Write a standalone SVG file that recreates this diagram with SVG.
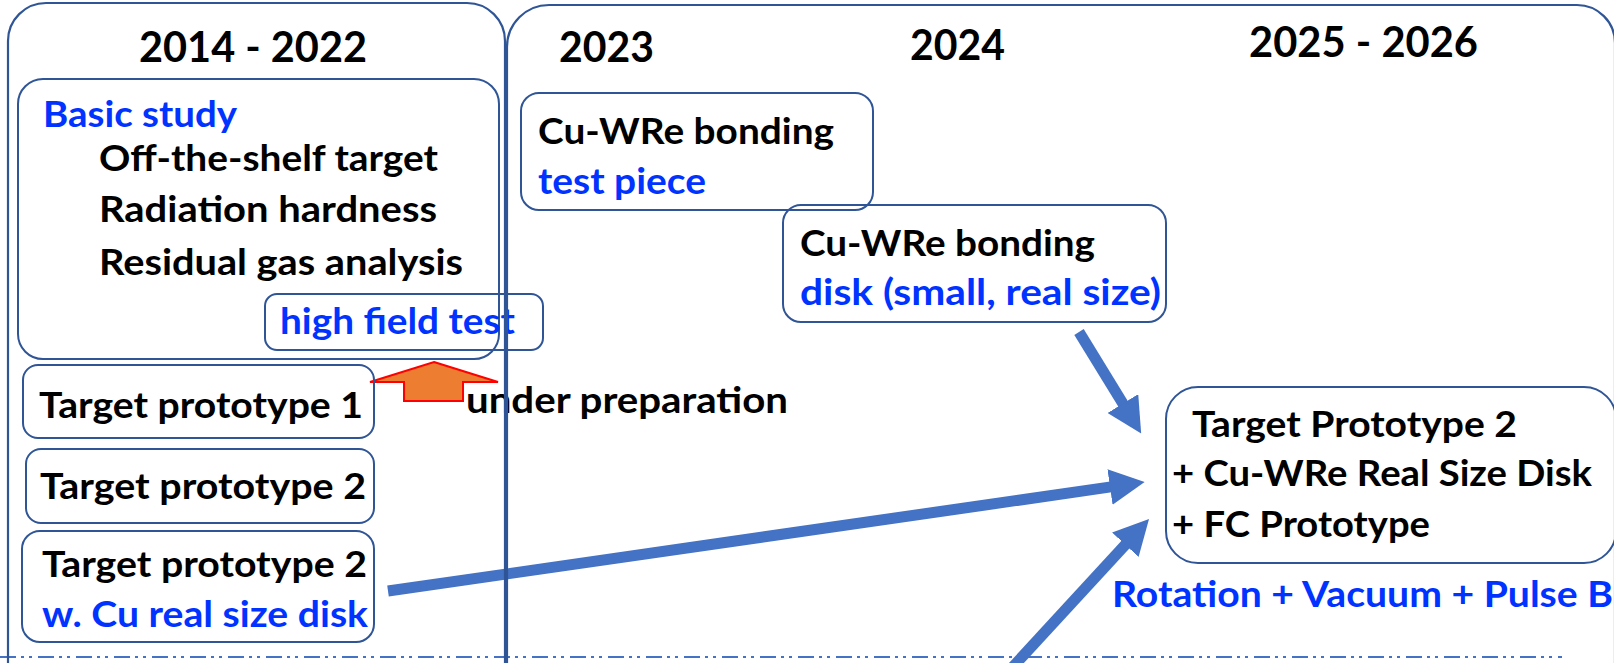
<svg xmlns="http://www.w3.org/2000/svg" width="1614" height="663" viewBox="0 0 1614 663">
  <style>
    .frame { fill: none; stroke: #2F5597; stroke-width: 2.2; }
    .box { fill: none; stroke: #2F5597; stroke-width: 2; }
    .t { font-family: Lato, "Open Sans", "Liberation Sans", sans-serif; font-weight: bold; fill: #000000; font-size: 36px; }
    .blue { fill: #0033FF; }
    .year { font-size: 42px; }
    .flow { fill: none; stroke: #4472C4; stroke-width: 11; stroke-linecap: butt; }
    .split { fill: none; stroke: #4472C4; stroke-width: 2; stroke-dasharray: 16 5 3 5 3 6; }
  </style>
  <defs>
    <marker id="head" viewBox="0 0 35 36" refX="1" refY="18" markerWidth="35" markerHeight="36" markerUnits="userSpaceOnUse" orient="auto">
      <path d="M0,0 L35,18 L0,36 Z" fill="#4472C4"/>
    </marker>
  </defs>

  <rect width="1614" height="663" fill="#FFFFFF"/>

  <!-- dash-dot separator along the bottom -->
  <line class="split" x1="0" y1="657" x2="1562" y2="657"/>

  <!-- connectors -->
  <g id="connectors">
    <line class="flow" x1="1079" y1="332" x2="1123.4" y2="404.4" marker-end="url(#head)"/>
    <line class="flow" x1="388" y1="591" x2="1111" y2="486.9" marker-end="url(#head)"/>
    <line class="flow" x1="1010" y1="670" x2="1126" y2="544" marker-end="url(#head)"/>
    <!-- status pointer -->
    <polygon points="434,362 498,382 463,382 463,401 404,401 404,382 370,382" fill="#ED7D31" stroke="#FF0000" stroke-width="2"/>
    <text class="t" x="466" y="413" textLength="322" lengthAdjust="spacingAndGlyphs">under preparation</text>
  </g>

  <!-- 2014 - 2022 -->
  <g id="basic-study">
    <rect class="box" x="18" y="79" width="481" height="280" rx="25"/>
    <text class="t blue" x="43" y="127" font-size="35" textLength="194" lengthAdjust="spacingAndGlyphs">Basic study</text>
    <text class="t" x="99" y="171" textLength="339" lengthAdjust="spacingAndGlyphs">Off-the-shelf target</text>
    <text class="t" x="99" y="222" textLength="338" lengthAdjust="spacingAndGlyphs">Radiation hardness</text>
    <text class="t" x="99" y="275" textLength="364" lengthAdjust="spacingAndGlyphs">Residual gas analysis</text>
  </g>
  <g id="high-field-test">
    <rect class="box" x="265" y="294" width="278" height="56" rx="12"/>
    <text class="t blue" x="280" y="334" textLength="235" lengthAdjust="spacingAndGlyphs">high field test</text>
  </g>
  <g id="target-prototype-1">
    <rect class="box" x="23" y="365" width="351" height="73" rx="15"/>
    <text class="t" x="39" y="418" textLength="324" lengthAdjust="spacingAndGlyphs">Target prototype 1</text>
  </g>
  <g id="target-prototype-2">
    <rect class="box" x="26" y="449" width="348" height="74" rx="15"/>
    <text class="t" x="40" y="499" textLength="326" lengthAdjust="spacingAndGlyphs">Target prototype 2</text>
  </g>
  <g id="target-prototype-2-cu">
    <rect class="box" x="22" y="531" width="352" height="111" rx="18"/>
    <text class="t" x="42" y="577" textLength="325" lengthAdjust="spacingAndGlyphs">Target prototype 2</text>
    <text class="t blue" x="42" y="627" textLength="326" lengthAdjust="spacingAndGlyphs">w. Cu real size disk</text>
  </g>

  <!-- 2023 - 2026 -->
  <g id="cu-wre-test-piece">
    <rect class="box" x="521" y="93" width="352" height="117" rx="18"/>
    <text class="t" x="538" y="144" textLength="296" lengthAdjust="spacingAndGlyphs">Cu-WRe bonding</text>
    <text class="t blue" x="538" y="194" textLength="168" lengthAdjust="spacingAndGlyphs">test piece</text>
  </g>
  <g id="cu-wre-disk">
    <rect class="box" x="783" y="205" width="383" height="117" rx="18"/>
    <text class="t" x="800" y="256" textLength="295" lengthAdjust="spacingAndGlyphs">Cu-WRe bonding</text>
    <text class="t blue" x="800" y="305" textLength="361" lengthAdjust="spacingAndGlyphs">disk (small, real size)</text>
  </g>
  <g id="target-prototype-2-full">
    <rect class="box" x="1166" y="387" width="450" height="176" rx="32"/>
    <text class="t" x="1192" y="437" textLength="325" lengthAdjust="spacingAndGlyphs">Target Prototype 2</text>
    <text class="t" x="1172" y="486" textLength="420" lengthAdjust="spacingAndGlyphs">+ Cu-WRe Real Size Disk</text>
    <text class="t" x="1172" y="537" textLength="258" lengthAdjust="spacingAndGlyphs">+ FC Prototype</text>
    <text class="t blue" x="1112" y="607" textLength="501" lengthAdjust="spacingAndGlyphs">Rotation + Vacuum + Pulse B</text>
  </g>

  <!-- period frames -->
  <g id="period-2014-2022">
    <path class="frame" d="M8,700 V41 A38,38 0 0 1 46,3 H467 A38,38 0 0 1 505,41 V700"/>
    <text class="t year" x="139" y="62" textLength="228" lengthAdjust="spacingAndGlyphs">2014 - 2022</text>
  </g>
  <g id="period-2023-2026">
    <path class="frame" d="M507,700 V47 A42,42 0 0 1 549,5 H1577 A38,38 0 0 1 1615,43 V700"/>
    <text class="t year" x="559" y="62" textLength="95" lengthAdjust="spacingAndGlyphs">2023</text>
    <text class="t year" x="910" y="60" textLength="95" lengthAdjust="spacingAndGlyphs">2024</text>
    <text class="t year" x="1249" y="57" textLength="229" lengthAdjust="spacingAndGlyphs">2025 - 2026</text>
  </g>
</svg>
